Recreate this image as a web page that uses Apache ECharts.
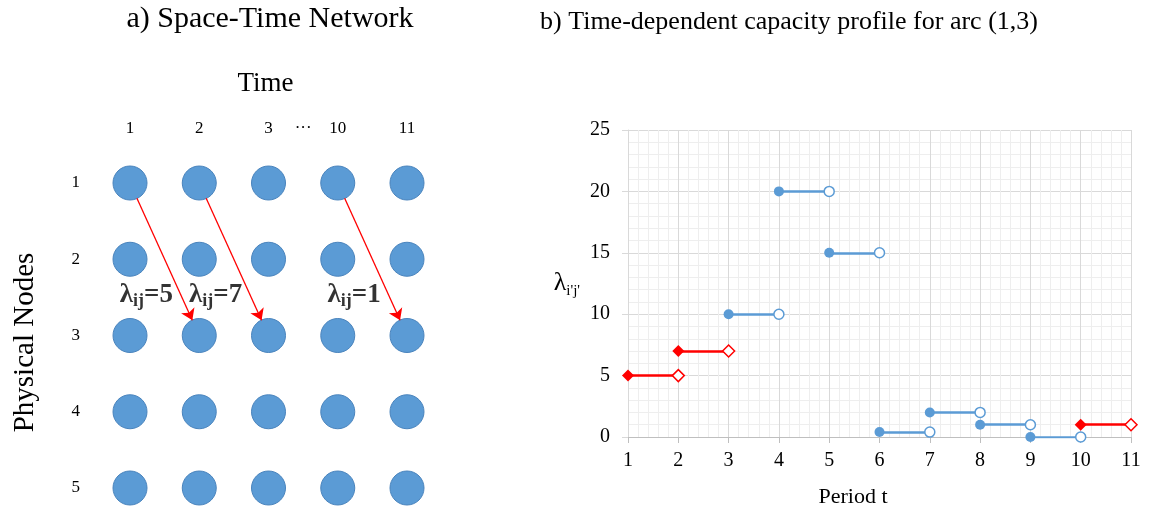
<!DOCTYPE html>
<html>
<head>
<meta charset="utf-8">
<script src="https://cdn.jsdelivr.net/npm/echarts@6/dist/echarts.min.js"></script>
<style>
html,body{margin:0;padding:0;background:#fff;}
#chart{width:1156px;height:513px;}
</style>
</head>
<body>
<div id="chart"></div>
<script>
// ---- Panel a) space-time network ----
const timeLabels = ['1', '2', '3', '10', '11'];
const nodeLabels = ['1', '2', '3', '4', '5'];
const arcFromTime = ['1', '2', '10'];
const arcToTime = ['2', '3', '11'];
const arcFromNode = ['1', '1', '1'];
const arcToNode = ['3', '3', '3'];
const arcLambda = [5, 7, 1];

// ---- Panel b) capacity profile ----
const periodTicks = [1, 2, 3, 4, 5, 6, 7, 8, 9, 10, 11];
const capacityTicks = [0, 5, 10, 15, 20, 25];
const blueStart = [3, 4, 5, 6, 7, 8, 9];
const blueValue = [10, 20, 15, 0.4, 2, 1, 0];
const redStart = [1, 2, 10];
const redValue = [5, 7, 1];
const periodLength = 1;

const FONT = "'Liberation Serif', 'Times New Roman', serif";
const BLUE = '#5b9bd5';
const RED = '#ff0000';

const colOf = t => timeLabels.indexOf(t);
const rowOf = n => nodeLabels.indexOf(n) + 1;

const nodeData = [];
nodeLabels.forEach(n => timeLabels.forEach(t => nodeData.push([colOf(t), rowOf(n)])));

const arcLines = [];
const lambdaPts = [];
for (let i = 0; i < arcLambda.length; i++) {
  const a = [colOf(arcFromTime[i]), rowOf(arcFromNode[i])];
  const b = [colOf(arcToTime[i]), rowOf(arcToNode[i])];
  const at = f => [a[0] + (b[0] - a[0]) * f, a[1] + (b[1] - a[1]) * f];
  arcLines.push({ coords: [at(0.1), at(0.9)] });
  lambdaPts.push({ value: at(0.735), lam: arcLambda[i] });
}

const seg = (starts, vals) => starts.map((s, i) => ({ coords: [[s, vals[i]], [s + periodLength, vals[i]]] }));
const startPts = (starts, vals) => starts.map((s, i) => [s, vals[i]]);
const endPts = (starts, vals) => starts.map((s, i) => [s + periodLength, vals[i]]);

const chart = echarts.init(document.getElementById('chart'), null, { renderer: 'canvas' });

const option = {
  backgroundColor: '#fff',
  animation: false,
  textStyle: { fontFamily: FONT },
  title: [
    { text: 'a) Space-Time Network', left: 265, top: -1, textAlign: 'center',
      textStyle: { fontFamily: FONT, fontSize: 30, fontWeight: 'normal', color: '#000' } },
    { text: 'b) Time-dependent capacity profile for arc (1,3)', left: 784, top: 4, textAlign: 'center',
      textStyle: { fontFamily: FONT, fontSize: 26, fontWeight: 'normal', color: '#000' } }
  ],
  grid: [
    { left: 130, top: 183, width: 277, height: 305 },
    { left: 628, top: 130, width: 503, height: 308 }
  ],
  xAxis: [
    {
      gridIndex: 0, type: 'value', position: 'top', min: 0, max: 4, interval: 0.5,
      axisLine: { show: false }, axisTick: { show: false }, splitLine: { show: false },
      axisLabel: {
        margin: 46, fontSize: 17, color: '#000', fontFamily: FONT,
        formatter: v => (Number.isInteger(v) ? timeLabels[v] : (v === 2.5 ? '···' : ''))
      },
      name: 'Time', nameLocation: 'middle', nameGap: 86,
      nameTextStyle: { fontSize: 27, color: '#000', fontFamily: FONT, padding: [0, 6, 0, 0] }
    },
    {
      gridIndex: 1, type: 'value', min: 1, max: 11, interval: 1,
      axisLine: { show: true, lineStyle: { color: '#bfbfbf', width: 1 } },
      axisTick: { show: true, length: 6, lineStyle: { color: '#bfbfbf' } },
      axisLabel: { margin: 14, fontSize: 20, color: '#000', fontFamily: FONT,
        formatter: v => String(periodTicks[periodTicks.indexOf(v)]) },
      splitLine: { show: true, lineStyle: { color: '#d9d9d9', width: 1 } },
      minorTick: { show: false, splitNumber: 5 },
      minorSplitLine: { show: true, lineStyle: { color: '#eeeeee', width: 1 } },
      name: 'Period t', nameLocation: 'middle', nameGap: 49,
      nameTextStyle: { fontSize: 22, color: '#000', fontFamily: FONT, padding: [0, 53, 0, 0] }
    }
  ],
  yAxis: [
    {
      gridIndex: 0, type: 'value', min: 1, max: 5, interval: 1, inverse: true,
      axisLine: { show: false }, axisTick: { show: false }, splitLine: { show: false },
      axisLabel: { margin: 50, fontSize: 17, color: '#000', fontFamily: FONT,
        formatter: v => nodeLabels[v - 1] },
      name: 'Physical Nodes', nameLocation: 'middle', nameRotate: 90, nameGap: 90,
      nameTextStyle: { fontSize: 29, color: '#000', fontFamily: FONT, padding: [0, 14, 0, 0] }
    },
    {
      gridIndex: 1, type: 'value', min: 0, max: 25, interval: 5,
      axisLine: { show: true, lineStyle: { color: '#d9d9d9', width: 1 } },
      axisTick: { show: true, length: 6, lineStyle: { color: '#d9d9d9' } },
      axisLabel: { margin: 18, fontSize: 20, color: '#000', fontFamily: FONT,
        formatter: v => String(capacityTicks[capacityTicks.indexOf(v)]) },
      splitLine: { show: true, lineStyle: { color: '#d9d9d9', width: 1 } },
      minorTick: { show: false, splitNumber: 5 },
      minorSplitLine: { show: true, lineStyle: { color: '#eeeeee', width: 1 } },
      name: '{l|λ}{s|i\'j\'}', nameLocation: 'middle', nameRotate: 0, nameGap: 48,
      nameTextStyle: {
        color: '#000', fontFamily: FONT,
        rich: {
          l: { fontSize: 26, fontFamily: FONT, color: '#000', lineHeight: 30 },
          s: { fontSize: 15, fontFamily: FONT, color: '#000', lineHeight: 15, verticalAlign: 'bottom' }
        }
      }
    }
  ],
  series: [
    // Panel a
    {
      type: 'scatter', xAxisIndex: 0, yAxisIndex: 0, clip: false, z: 2,
      symbol: 'circle', symbolSize: 34, data: nodeData,
      itemStyle: { color: BLUE, borderColor: '#4a84bd', borderWidth: 1, opacity: 1 }
    },
    {
      type: 'lines', coordinateSystem: 'cartesian2d', xAxisIndex: 0, yAxisIndex: 0, z: 3,
      symbol: ['none', 'arrow'], symbolSize: 11, data: arcLines,
      lineStyle: { color: RED, width: 1.3, opacity: 1 }
    },
    {
      type: 'scatter', xAxisIndex: 0, yAxisIndex: 0, clip: false, z: 4,
      symbolSize: 0, data: lambdaPts,
      label: {
        show: true, position: 'left', distance: 8,
        formatter: p => '{l|λ}{s|ij}{l|=' + p.data.lam + '}',
        rich: {
          l: { fontSize: 27, fontWeight: 'bold', fontFamily: FONT, color: '#000', lineHeight: 30 },
          s: { fontSize: 18, fontWeight: 'bold', fontFamily: FONT, color: '#000', lineHeight: 16, verticalAlign: 'bottom' }
        }
      }
    },
    // Panel b
    {
      type: 'lines', coordinateSystem: 'cartesian2d', xAxisIndex: 1, yAxisIndex: 1, z: 3,
      data: seg(blueStart, blueValue), lineStyle: { color: BLUE, width: 2.5, opacity: 1 }
    },
    {
      type: 'lines', coordinateSystem: 'cartesian2d', xAxisIndex: 1, yAxisIndex: 1, z: 3,
      data: seg(redStart, redValue), lineStyle: { color: RED, width: 2.5, opacity: 1 }
    },
    {
      type: 'scatter', xAxisIndex: 1, yAxisIndex: 1, clip: false, z: 4,
      symbol: 'circle', symbolSize: 10, data: startPts(blueStart, blueValue),
      itemStyle: { color: BLUE, opacity: 1 }
    },
    {
      type: 'scatter', xAxisIndex: 1, yAxisIndex: 1, clip: false, z: 4,
      symbol: 'circle', symbolSize: 10, data: endPts(blueStart, blueValue),
      itemStyle: { color: '#fff', borderColor: BLUE, borderWidth: 1.5, opacity: 1 }
    },
    {
      type: 'scatter', xAxisIndex: 1, yAxisIndex: 1, clip: false, z: 4,
      symbol: 'diamond', symbolSize: 12, data: startPts(redStart, redValue),
      itemStyle: { color: RED, opacity: 1 }
    },
    {
      type: 'scatter', xAxisIndex: 1, yAxisIndex: 1, clip: false, z: 4,
      symbol: 'diamond', symbolSize: 12, data: endPts(redStart, redValue),
      itemStyle: { color: '#fff', borderColor: RED, borderWidth: 1.5, opacity: 1 }
    }
  ]
};
chart.setOption(option);
</script>
</body>
</html>
